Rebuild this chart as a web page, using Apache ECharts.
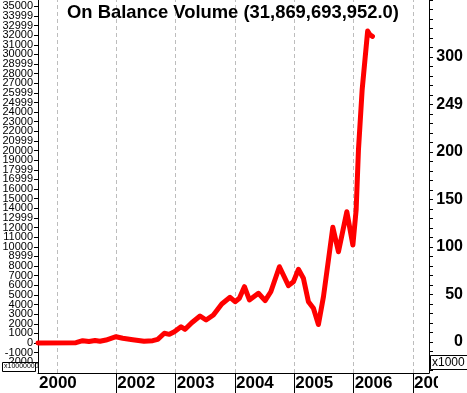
<!DOCTYPE html>
<html>
<head>
<meta charset="utf-8">
<script src="https://cdn.jsdelivr.net/npm/echarts@6/dist/echarts.min.js"></script>
<style>html,body{margin:0;padding:0;background:#fff}#c{width:467px;height:393px}</style>
</head>
<body>
<div id="c"></div>
<script>
// Decimal-year positions of the OBV readings
var xPos = [2000.680, 2001.320, 2001.433, 2001.540, 2001.641, 2001.725, 2001.826, 2001.995, 2002.108, 2002.277,
  2002.467, 2002.614, 2002.698, 2002.809, 2002.894, 2002.978, 2003.091, 2003.159, 2003.271, 2003.411,
  2003.513, 2003.636, 2003.777, 2003.917, 2004.002, 2004.074, 2004.159, 2004.243, 2004.395, 2004.508,
  2004.604, 2004.749, 2004.901, 2004.985, 2005.069, 2005.153, 2005.238, 2005.322, 2005.406, 2005.491,
  2005.575, 2005.649, 2005.744, 2005.885, 2005.987, 2006.042, 2006.081, 2006.143, 2006.236, 2006.278, 2006.317];
// On Balance Volume (x 1,000,000)
var obv = [0, 30, 240, 150, 260, 180, 310, 650, 490, 340,
  180, 240, 380, 1010, 900, 1170, 1690, 1420, 2110, 2810,
  2390, 2910, 4050, 4750, 4290, 4650, 5850, 4470, 5170, 4400,
  5330, 7930, 5960, 6370, 7660, 6730, 4290, 3610, 1920, 4810,
  8630, 12030, 9490, 13650, 10190, 13840, 20060, 26300, 32430, 32020, 31870];

var xGridYears = [2001, 2002, 2003, 2004, 2005, 2006, 2007];
var xLabelPos = [2000.68, 2002, 2003, 2004, 2005, 2006, 2007];
var xLabels = ['2000', '2002', '2003', '2004', '2005', '2006', '2007'];
var xTickPos = [2002, 2003, 2004, 2005, 2006, 2007];

var leftVals = [];
for (var v = -2000; v <= 35000; v += 1000) leftVals.push(v);
var leftLabels = ['-2000', '-1000', '0', '1000', '2000', '3000', '4000', '5000', '6000', '7000', '8000', '8999',
  '10000', '11000', '12000', '12999', '14000', '15000', '16000', '16999', '17999', '19000', '20000', '20999',
  '22000', '23000', '24000', '24999', '25999', '27000', '28000', '28999', '30000', '31000', '32000', '32999',
  '33999', '35000'];
var leftValsA = leftVals.filter(function (x, i) { return i % 2 === 0; });
var leftValsB = leftVals.filter(function (x, i) { return i % 2 === 1; });

var rightVals = [0, 50, 100, 150, 200, 250, 300];
var rightLabels = ['0', '50', '100', '150', '200', '249', '300'];
var rightTicks = [];
for (var r = -30; r <= 360; r += 10) rightTicks.push(r);

var titleText = 'On Balance Volume (31,869,693,952.0)';

var data = xPos.map(function (x, i) { return [x, obv[i]]; });
var FONT = '"Liberation Sans", Arial, sans-serif';

function leftFmt(val) {
  var i = leftVals.indexOf(Math.round(val));
  return i >= 0 ? leftLabels[i] : '';
}
function leftAxis(vals, showLine) {
  return {
    type: 'value', position: 'left', offset: 0, min: -3119, max: 35655,
    axisLine: {show: showLine, lineStyle: {color: '#000', width: 1}},
    splitLine: {show: false},
    axisTick: {show: true, customValues: vals, length: 4, lineStyle: {color: '#000'}},
    axisLabel: {
      customValues: vals, margin: 5, fontFamily: FONT, fontSize: 11, color: '#000',
      showMinLabel: true, showMaxLabel: true, hideOverlap: false,
      formatter: leftFmt
    }
  };
}

var chart = echarts.init(document.getElementById('c'), null, {renderer: 'canvas'});
chart.setOption({
  animation: false,
  backgroundColor: '#ffffff',
  title: {
    text: titleText, left: 67, top: 4, padding: 0,
    textStyle: {fontFamily: FONT, fontSize: 18.4, fontWeight: 'bold', color: '#000'}
  },
  grid: {left: 38, right: 38, top: 0, bottom: 20, containLabel: false, outerBoundsMode: 'none'},
  xAxis: {
    type: 'value', min: 2000.68, max: 2007.27,
    axisLine: {show: true, onZero: false, lineStyle: {color: '#000', width: 1}},
    splitLine: {show: false},
    axisTick: {show: true, customValues: xTickPos, length: 20, lineStyle: {color: '#000', width: 1}},
    axisLabel: {
      customValues: xLabelPos, margin: 2, align: 'left', padding: [0, 0, 0, 1],
      showMinLabel: true, showMaxLabel: true, hideOverlap: false,
      fontFamily: FONT, fontSize: 17, fontWeight: 'bold', color: '#000',
      formatter: function (val) {
        var i = xLabelPos.indexOf(val);
        return i >= 0 ? xLabels[i] : '';
      }
    }
  },
  yAxis: [leftAxis(leftValsA, true), {
    type: 'value', position: 'right', min: -32.6, max: 360,
    axisLine: {show: true, lineStyle: {color: '#000', width: 1}},
    splitLine: {show: false},
    axisTick: {show: true, customValues: rightTicks, length: 4, lineStyle: {color: '#000'}},
    axisLabel: {
      customValues: rightVals, margin: 34, align: 'right',
      showMinLabel: true, showMaxLabel: true, hideOverlap: false,
      fontFamily: FONT, fontSize: 16, fontWeight: 'bold', color: '#000',
      formatter: function (val) {
        var i = rightVals.indexOf(Math.round(val));
        return i >= 0 ? rightLabels[i] : '';
      }
    }
  }, leftAxis(leftValsB, false)],
  series: [{
    type: 'line', data: [], z: 1, silent: true,
    markLine: {
      silent: true, symbol: 'none', animation: false,
      label: {show: false},
      lineStyle: {color: '#bdbdbd', type: [4, 3], width: 1},
      data: xGridYears.map(function (y) { return {xAxis: y}; })
    }
  }, {
    type: 'line', data: data, z: 5, showSymbol: false, symbol: 'none', silent: true,
    lineStyle: {color: '#ff0000', width: 5, join: 'round', cap: 'round'}
  }],
  graphic: [
    {type: 'rect', left: 438, top: 374, shape: {width: 30, height: 19}, style: {fill: '#fff'}, z: 100},
    {type: 'rect', shape: {x: 430.5, y: 355.5, width: 40, height: 14}, style: {fill: '#fff', stroke: '#000', lineWidth: 1}, z: 100},
    {type: 'text', x: 432, y: 357, style: {text: 'x1000', font: '12px ' + FONT, fill: '#000'}, z: 101},
    {type: 'rect', shape: {x: 2.5, y: 362.5, width: 33, height: 9}, style: {fill: '#fff', stroke: '#000', lineWidth: 1}, z: 100},
    {type: 'text', x: 4, y: 363, style: {text: 'x10000000', font: '7px ' + FONT, fill: '#000'}, z: 101}
  ]
});
</script>
</body>
</html>
